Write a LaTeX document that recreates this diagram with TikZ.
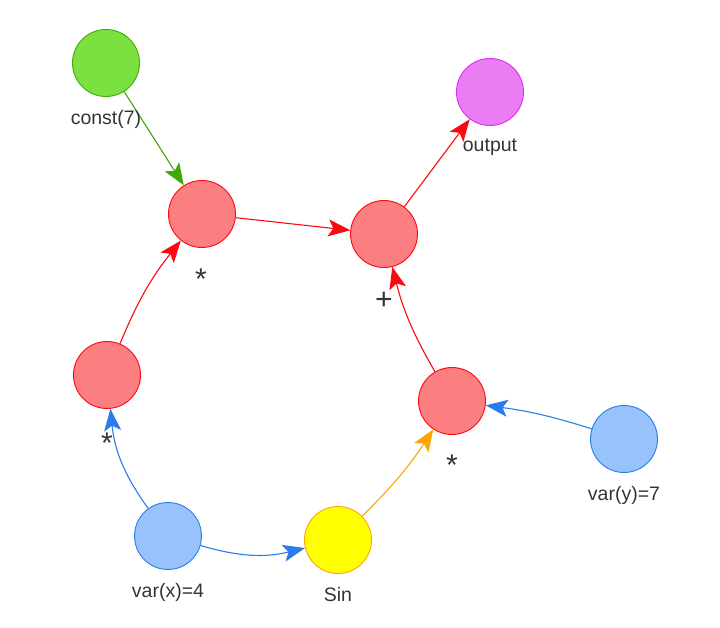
\documentclass[tikz,border=0pt]{standalone}
\usepackage{fontspec}
\setmainfont{Liberation Sans}
\usepackage{xcolor}
\usepackage{tikz}
\usetikzlibrary{arrows.meta,backgrounds}
\definecolor{GBlue}{HTML}{2B7CE9}
\definecolor{GBlueFill}{HTML}{97C2FC}
\definecolor{GRed}{HTML}{FA0A10}
\definecolor{GRedFill}{HTML}{FB7E81}
\definecolor{GGreen}{HTML}{41A906}
\definecolor{GGreenFill}{HTML}{7BE141}
\definecolor{GPink}{HTML}{E129F0}
\definecolor{GPinkFill}{HTML}{EB7DF4}
\definecolor{GOrange}{HTML}{FFA500}
\definecolor{GYellow}{HTML}{FFFF00}
\definecolor{GText}{HTML}{343434}

\begin{document}
\begin{tikzpicture}[
  x=1pt,
  y=1pt,
  op/.style={
    circle,
    line width=0.9pt,
    minimum size=67pt,
    inner sep=0pt
  },
  lbl/.style={
    anchor=base,
    text=GText,
    font=\fontsize{19.5}{22}\selectfont
  },
  sym/.style={
    anchor=base,
    text=GText,
    font=\fontsize{30}{34}\selectfont
  },
  link/.style={line width=1.1pt, -{Stealth[length=22pt,width=17pt,inset=5pt]}},
]
\useasboundingbox (0,0) rectangle (720,627);

\node[op,draw=GGreen,fill=GGreenFill] (const) at (106,564) {};
\node[lbl] (const-l) at (106,502) {const(7)};

\node[op,draw=GPink,fill=GPinkFill] (output) at (490,535) {};
\node[lbl] (output-l) at (490,475) {output};

\node[op,draw=GRed,fill=GRedFill] (mul-a) at (202,413) {};
\node[sym] (mul-a-l) at (201,337) {*};

\node[op,draw=GRed,fill=GRedFill] (add) at (384,393) {};
\node[sym] (add-l) at (384,317) {+};

\node[op,draw=GRed,fill=GRedFill] (mul-b) at (107,252) {};
\node[sym] (mul-b-l) at (107,174) {*};

\node[op,draw=GRed,fill=GRedFill] (mul-c) at (452,226) {};
\node[sym] (mul-c-l) at (452,152) {*};

\node[op,draw=GBlue,fill=GBlueFill] (var-y) at (624,188) {};
\node[lbl] (var-y-l) at (624,127) {var(y)=7};

\node[op,draw=GBlue,fill=GBlueFill] (var-x) at (168,91) {};
\node[lbl] (var-x-l) at (168,30) {var(x)=4};

\node[op,draw=GOrange,fill=GYellow] (sin) at (338,87) {};
\node[lbl] (sin-l) at (338,26) {Sin};

\begin{scope}[on background layer]
  \draw[link,GGreen] (const) -- (mul-a);
  \draw[link,GRed] (mul-a) -- (add);
  \draw[link,GRed] (add) -- (output);
  \draw[link,GRed] (mul-b) to[bend left=8] (mul-a);
  \draw[link,GRed] (mul-c) to[bend left=8] (add);
  \draw[link,GBlue] (var-x) to[bend left=15] (mul-b);
  \draw[link,GBlue] (var-x) to[bend right=15] (sin);
  \draw[link,GOrange] (sin) to[bend right=6] (mul-c);
  \draw[link,GBlue] (var-y) to[bend right=5] (mul-c);
\end{scope}
\end{tikzpicture}
\end{document}
